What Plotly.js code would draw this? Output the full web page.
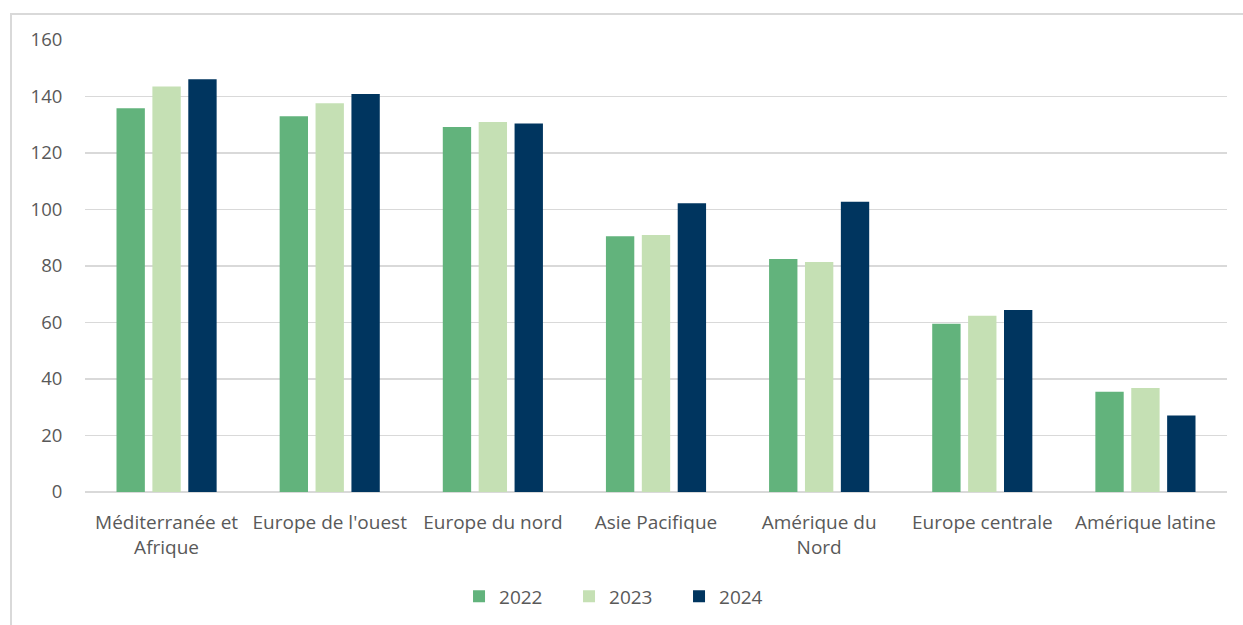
<!DOCTYPE html>
<html>
<head>
<meta charset="utf-8">
<script src="https://cdn.plot.ly/plotly-3.0.1.min.js"></script>
<style>
  html, body { margin: 0; padding: 0; background: #fff; width: 1243px; height: 625px; overflow: hidden; }
  #frame { position: absolute; left: 10px; top: 13px; width: 1233px; height: 612px;
           border-left: 2px solid #d9d9d9; border-top: 2px solid #d9d9d9; box-sizing: border-box; }
  #chart { position: absolute; left: 0; top: 0; width: 1231px; height: 610px; }
</style>
</head>
<body>
<div id="frame"><div id="chart"></div></div>
<script>
const categories = ["Méditerranée et<br>Afrique", "Europe de l'ouest", "Europe du nord", "Asie Pacifique", "Amérique du<br>Nord", "Europe centrale", "Amérique latine"];
const seriesNames = ["2022", "2023", "2024"];
const values2022 = [135.8, 133.0, 129.2, 90.5, 82.5, 59.6, 35.5];
const values2023 = [143.5, 137.6, 131.0, 91.0, 81.4, 62.4, 36.8];
const values2024 = [146.1, 140.9, 130.4, 102.2, 102.7, 64.4, 27.1];
const colors = ["#62B37C", "#C5E0B4", "#00355F"];

const allValues = [values2022, values2023, values2024];
const traces = allValues.map((vals, i) => ({
  type: 'bar',
  name: seriesNames[i],
  x: categories,
  y: vals,
  marker: { color: colors[i], line: { width: 0 } },
  hoverinfo: 'x+y+name'
}));

const fam = "'Open Sans', 'Noto Sans', sans-serif";
const grey = '#595959';

const layout = {
  width: 1231, height: 610,
  margin: { l: 73, r: 16, t: 25, b: 133, autoexpand: false },
  paper_bgcolor: '#fff', plot_bgcolor: '#fff',
  font: { family: fam, color: grey, size: 18 },
  barmode: 'group',
  bargap: 0.34,
  bargroupgap: 0.21,
  showlegend: true,
  legend: { orientation: 'h', xref: 'paper', x: 0.472, xanchor: 'center',
            yref: 'container', y: 0.047, yanchor: 'middle',
            font: { family: fam, color: grey, size: 19 }, itemwidth: 30,
            entrywidth: 65, entrywidthmode: 'pixels', traceorder: 'normal' },
  xaxis: {
    type: 'category',
    showgrid: false, showline: false, zeroline: false,
    ticks: 'outside', ticklen: 13, tickcolor: 'rgba(0,0,0,0)',
    tickfont: { family: fam, color: grey, size: 19 }
  },
  yaxis: {
    range: [0, 160], dtick: 20, tick0: 0,
    showgrid: true, gridcolor: '#d9d9d9', gridwidth: 1.5,
    zeroline: true, zerolinecolor: '#d9d9d9', zerolinewidth: 1.5,
    showline: false,
    ticks: 'outside', ticklen: 18, tickcolor: 'rgba(0,0,0,0)',
    tickfont: { family: fam, color: grey, size: 18.5 }
  }
};

Plotly.newPlot('chart', traces, layout, { displayModeBar: false, staticPlot: true });
</script>
</body>
</html>
